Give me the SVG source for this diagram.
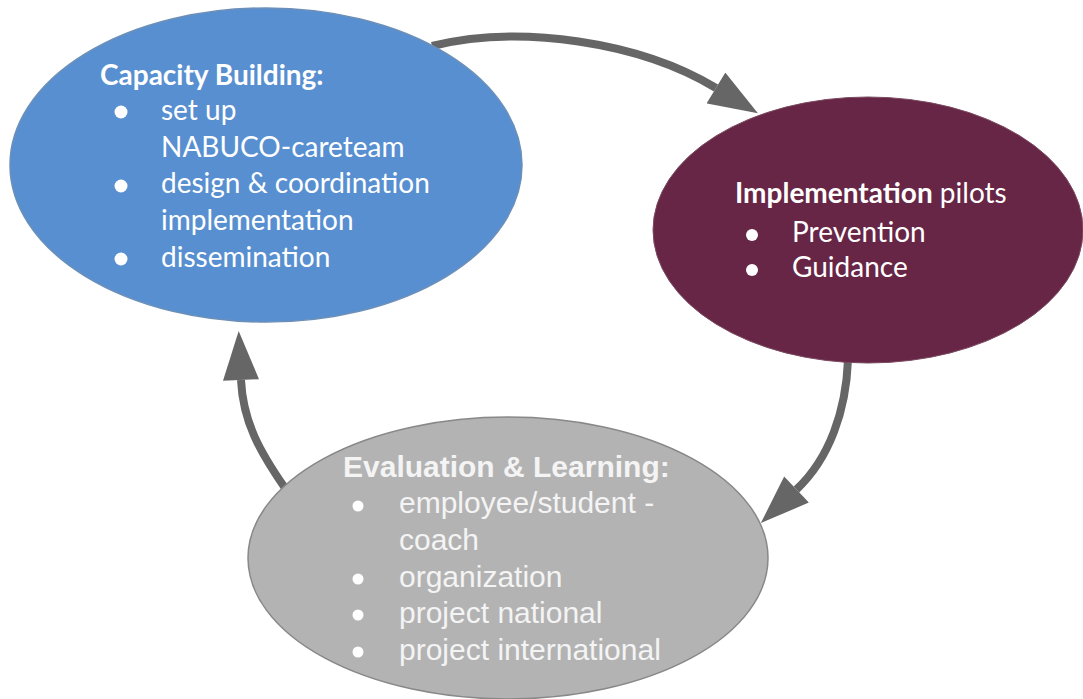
<svg xmlns="http://www.w3.org/2000/svg" width="1083" height="699" viewBox="0 0 1083 699">
<style>
.conn{fill:none;stroke:#666666;stroke-width:8;marker-end:url(#ah)}
.cal{font-family:Lato,"Open Sans","Liberation Sans",sans-serif;fill:#ffffff}
.ari{font-family:"Liberation Sans",Arial,sans-serif;fill:#f4f4f4}
.b{font-weight:bold}
.bul{fill:#ffffff}
</style>
<defs>
<marker id="ah" markerUnits="userSpaceOnUse" markerWidth="50" markerHeight="36" viewBox="0 0 49 36" refX="0" refY="18" orient="auto">
<path d="M0 0 L49 18 L0 36 Z" fill="#666666"/>
</marker>
</defs>
<g id="connectors">
<path class="conn" d="M432 46 C520 24 640 42 716 88"/>
<path class="conn" d="M848 360 C846 410 830 458 796.5 489.5"/>
<path class="conn" d="M285 488 C260 452 243 422 241 380"/>
</g>
<g id="capacity">
<ellipse cx="266" cy="165" rx="256" ry="157" fill="#588FD0" stroke="#6c8fb8" stroke-width="1.5"/>
<text class="cal b" x="100" y="85" font-size="28">Capacity Building:</text>
<circle class="bul" cx="121" cy="112" r="6.5"/>
<circle class="bul" cx="121" cy="186" r="6.5"/>
<circle class="bul" cx="121" cy="259" r="6.5"/>
<text class="cal" font-size="28"><tspan x="161" y="120">set up</tspan><tspan x="161" y="157">NABUCO-careteam</tspan><tspan x="161" y="193">design &amp; coordination</tspan><tspan x="161" y="230">implementation</tspan><tspan x="161" y="267">dissemination</tspan></text>
</g>
<g id="implementation">
<ellipse cx="868" cy="230" rx="215" ry="133" fill="#672646" stroke="#7a4a60" stroke-width="1"/>
<text class="cal" x="735" y="203" font-size="28"><tspan class="b">Implementation</tspan> pilots</text>
<circle class="bul" cx="752" cy="235" r="6"/>
<circle class="bul" cx="752" cy="270" r="6"/>
<text class="cal" font-size="28"><tspan x="792" y="242">Prevention</tspan><tspan x="792" y="277">Guidance</tspan></text>
</g>
<g id="evaluation">
<ellipse cx="508" cy="558" rx="260" ry="141" fill="#B3B3B3" stroke="#888888" stroke-width="1.5"/>
<text class="ari b" x="343" y="477" font-size="30">Evaluation &amp; Learning:</text>
<circle class="bul" cx="358" cy="506" r="5.5"/>
<circle class="bul" cx="358" cy="579" r="5.5"/>
<circle class="bul" cx="358" cy="615" r="5.5"/>
<circle class="bul" cx="358" cy="652" r="5.5"/>
<text class="ari" font-size="30"><tspan x="399" y="513">employee/student -</tspan><tspan x="399" y="550">coach</tspan><tspan x="399" y="587">organization</tspan><tspan x="399" y="623">project national</tspan><tspan x="399" y="660">project international</tspan></text>
</g>
</svg>
